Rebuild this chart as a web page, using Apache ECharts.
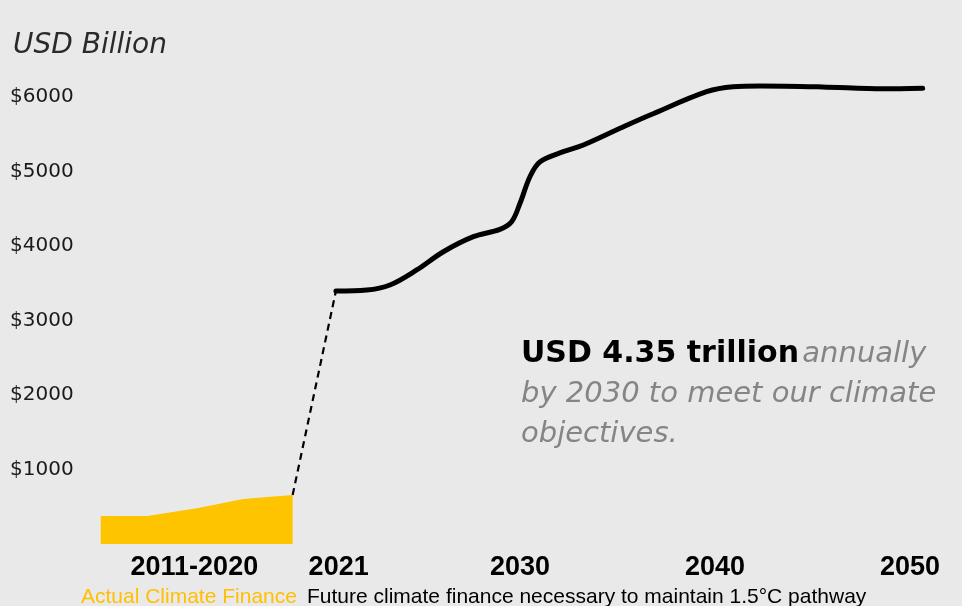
<!DOCTYPE html>
<html>
<head>
<meta charset="utf-8">
<script src="https://cdn.jsdelivr.net/npm/echarts@6/dist/echarts.min.js"></script>
<style>
html,body{margin:0;padding:0;background:#e9e9e9;}
#chart{width:962px;height:606px;}
</style>
</head>
<body>
<div id="chart"></div>
<script>
// Actual climate finance (2011-2020 block, positions read on the year axis)
var actualYears = [2008.5, 2010.9, 2013.5, 2015.8, 2018.34];
var actualValues = [376, 376, 483, 604, 658];

// Future climate finance necessary (USD billion)
var futureYears = [2020.56, 2022.14, 2023.33, 2024.7, 2026.07, 2027.61, 2028.97, 2029.57, 2030.0, 2030.51, 2031.03, 2032.22, 2033.25, 2035.13, 2036.67, 2039.57, 2040.92, 2042.31, 2045.5, 2048.62, 2050.65];
var futureValues = [3396, 3409, 3477, 3678, 3923, 4125, 4224, 4326, 4573, 4930, 5131, 5266, 5356, 5580, 5758, 6071, 6138, 6148, 6135, 6110, 6117];

// X tick labels and where they sit on the year axis
var tickLabels = ['2011-2020', '2021', '2030', '2040', '2050'];
var tickPositions = [2013.3, 2020.7, 2030, 2040, 2050];

function zip(a, b) { return a.map(function (v, i) { return [v, b[i]]; }); }

var chart = echarts.init(document.getElementById('chart'), null, {renderer: 'canvas'});
var option = {
  backgroundColor: '#e9e9e9',
  animation: false,
  title: {
    text: 'USD Billion',
    left: 8,
    top: 27,
    textStyle: {fontFamily: 'DejaVu Sans', fontStyle: 'italic', fontWeight: 200, fontSize: 28, color: '#2a2a2a'}
  },
  grid: {left: 91, right: 32.5, top: 22.5, bottom: 62},
  xAxis: {
    type: 'value',
    min: 2008,
    max: 2051,
    axisLine: {show: false},
    axisTick: {show: false},
    splitLine: {show: false},
    axisLabel: {
      customValues: tickPositions,
      margin: 10,
      fontFamily: 'Liberation Sans',
      fontWeight: 'bold',
      fontSize: 27,
      color: '#000',
      formatter: function (v) {
        for (var i = 0; i < tickPositions.length; i++) {
          if (Math.abs(tickPositions[i] - v) < 0.01) return tickLabels[i];
        }
        return '';
      }
    }
  },
  yAxis: {
    type: 'value',
    min: 0,
    max: 7000,
    interval: 1000,
    axisLine: {show: false},
    axisTick: {show: false},
    splitLine: {show: false},
    axisLabel: {
      showMinLabel: false,
      showMaxLabel: false,
      align: 'left',
      margin: 81,
      padding: [4, 0, 0, 0],
      fontFamily: 'DejaVu Sans',
      fontSize: 20,
      color: '#1a1a1a',
      formatter: function (v) { return '$' + v; }
    }
  },
  graphic: [
    {
      type: 'text',
      left: 521,
      top: 339,
      style: {
        text: '{b|USD 4.35 trillion} {i|annually}\n{i|by 2030 to meet our climate}\n{i|objectives.}',
        rich: {
          b: {fontFamily: 'DejaVu Sans', fontWeight: 'bold', fontSize: 30, lineHeight: 40, fill: '#000'},
          i: {fontFamily: 'DejaVu Sans', fontStyle: 'italic', fontWeight: 200, fontSize: 29, lineHeight: 40, fill: '#858585'}
        }
      }
    },
    {
      type: 'text',
      left: 81,
      top: 587,
      style: {text: 'Actual Climate Finance', font: '21px "Liberation Sans"', fill: '#ffc000'}
    },
    {
      type: 'text',
      left: 307,
      top: 587,
      style: {text: 'Future climate finance necessary to maintain 1.5°C pathway', font: '21px "Liberation Sans"', fill: '#000'}
    }
  ],
  series: [
    {
      name: 'Actual Climate Finance',
      type: 'line',
      data: zip(actualYears, actualValues),
      symbol: 'none',
      lineStyle: {width: 0},
      itemStyle: {color: '#ffc400'},
      areaStyle: {color: '#ffc400', opacity: 1}
    },
    {
      name: 'Connector',
      type: 'line',
      data: [[actualYears[actualYears.length - 1], actualValues[actualValues.length - 1]], [futureYears[0], futureValues[0]]],
      symbol: 'none',
      lineStyle: {color: '#000', width: 2.2, type: [7, 5]}
    },
    {
      name: 'Future climate finance',
      type: 'line',
      data: zip(futureYears, futureValues),
      symbol: 'none',
      smooth: 0.35,
      lineStyle: {color: '#000', width: 5, cap: 'round'}
    }
  ]
};
chart.setOption(option);
</script>
</body>
</html>
